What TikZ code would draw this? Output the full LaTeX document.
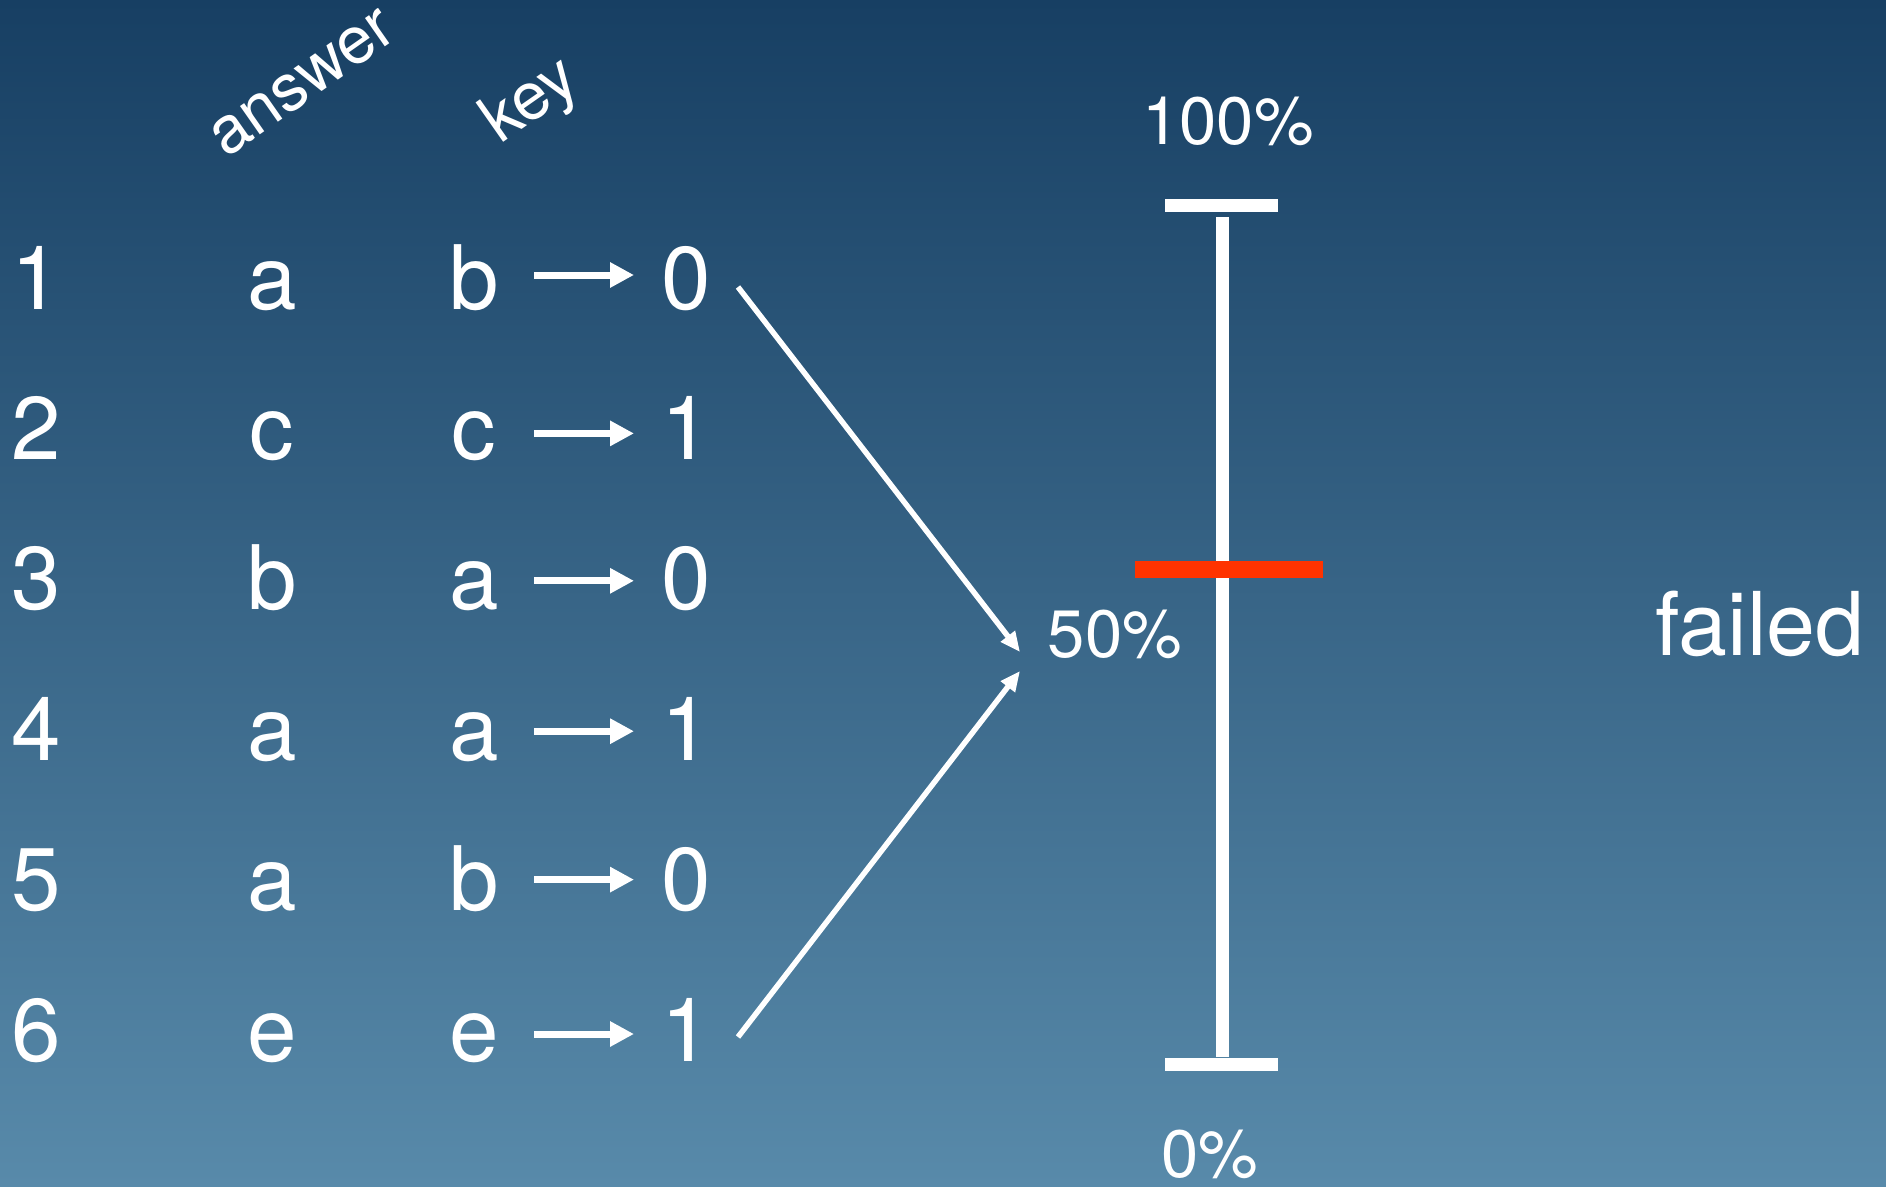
\documentclass[tikz,border=0pt]{standalone}
\usepackage{fontspec}
\setmainfont{TeX Gyre Heros}
\usetikzlibrary{arrows.meta}
\definecolor{bgtop}{RGB}{23,63,99}
\definecolor{bgbot}{RGB}{88,138,170}
\definecolor{redbar}{RGB}{255,51,0}
\tikzset{
  big/.style={text=white, inner sep=0pt, anchor=base, font=\fontsize{89}{100}\selectfont},
  pct/.style={text=white, inner sep=0pt, anchor=base, font=\fontsize{67}{78}\selectfont},
  head/.style={text=white, inner sep=0pt, anchor=center, rotate=35, font=\fontsize{66}{76}\selectfont},
  harrow/.style={draw=white, line width=7pt, -{Triangle[length=24pt,width=24pt]}},
  darrow/.style={draw=white, line width=5.5pt, -{Triangle[length=20pt,width=17pt]}},
  barpart/.style={fill=white},
}
\begin{document}
\begin{tikzpicture}[x=1pt,y=-1pt]
\shade[top color=bgtop, bottom color=bgbot] (0,0) rectangle (1886,1186);
\useasboundingbox (0,0) rectangle (1886,1186);
% headers
\node[head] (hans) at (303,84) {answer};
\node[head] (hkey) at (532,102) {key};
% rows
\foreach \i/\a/\k/\r/\dy [count=\n from 0] in {1/a/b/0/-34,2/c/c/1/-26,3/b/a/0/-29,4/a/a/1/-29,5/a/b/0/-31,6/e/e/1/-27}{
  \pgfmathsetmacro{\yb}{309+150.4*\n}
  \node[big] (n\i) at (36,\yb) {\i};
  \node[big] (a\i) at (272,\yb) {\a};
  \node[big] (k\i) at (474,\yb) {\k};
  \node[big] (r\i) at (686,\yb) {\r};
  \draw[harrow] ([shift={(60,\dy)}]k\i.base) -- ([shift={(-52,\dy)}]r\i.base);
}
% percentage labels
\node[pct] (p100) at (1228,144) {100\%};
\node[pct] (p50) at (1115,657) {50\%};
\node[pct] (p0) at (1210,1177) {0\%};
\node[big, font=\fontsize{88}{100}\selectfont] (failed) at (1760,655) {failed};
% converging arrows
\draw[darrow] ([shift={(52,-22)}]r1.base) -- ([shift={(-95,-5)}]p50.base);
\draw[darrow] ([shift={(52,-24)}]r6.base) -- ([shift={(-95,14)}]p50.base);
% scale bar
\fill[barpart] (1216,217) rectangle (1229,1057);
\fill[barpart] (1165,199) rectangle (1278,212);
\fill[barpart] (1165,1058) rectangle (1278,1071);
\fill[redbar] (1135,561) rectangle (1323,578);
\end{tikzpicture}
\end{document}
